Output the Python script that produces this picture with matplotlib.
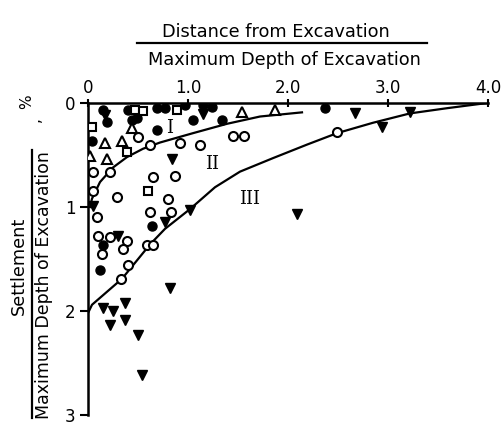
import numpy as np
import matplotlib
matplotlib.use("Agg")
from matplotlib import pyplot as plt
from matplotlib.lines import Line2D

# boundary curves between zones I / II / III
curve1_x = [0.02, 0.04, 0.12, 0.25, 0.39, 0.55, 0.72, 1.05, 1.39, 1.72, 2.14]
curve1_y = [1.00, 0.92, 0.76, 0.62, 0.52, 0.44, 0.38, 0.29, 0.20, 0.13, 0.09]
curve2_x = [0.0, 0.04, 0.34, 0.62, 0.77, 1.02, 1.27, 1.52, 1.85, 2.19, 2.49, 2.85, 3.22, 3.59, 3.99]
curve2_y = [2.02, 1.94, 1.69, 1.36, 1.21, 1.02, 0.81, 0.66, 0.53, 0.40, 0.29, 0.19, 0.10, 0.05, 0.0]

# observations
fcirc_x = [0.15, 0.19, 0.04, 0.49, 0.69, 0.77, 0.97, 1.05, 0.69, 1.24, 1.34, 2.37, 0.64, 0.15, 0.12, 1.15, 0.44, 0.40]
fcirc_y = [0.07, 0.18, 0.37, 0.14, 0.05, 0.05, 0.02, 0.16, 0.26, 0.04, 0.16, 0.05, 1.18, 1.37, 1.61, 0.02, 0.16, 0.07]
ocirc_x = [0.50, 0.62, 0.92, 1.12, 1.45, 1.56, 0.05, 0.22, 0.65, 0.87, 0.29, 0.80, 0.62, 0.83, 0.05,
           0.09, 0.10, 0.22, 0.39, 0.35, 0.14, 0.59, 0.65, 0.40, 0.33, 2.49]
ocirc_y = [0.33, 0.40, 0.38, 0.40, 0.32, 0.32, 0.66, 0.66, 0.71, 0.70, 0.90, 0.92, 1.05, 1.05, 0.85,
           1.10, 1.28, 1.29, 1.33, 1.40, 1.45, 1.37, 1.37, 1.56, 1.69, 0.28]
otri_x = [0.44, 0.17, 0.34, 0.02, 0.19, 1.54, 1.87]
otri_y = [0.24, 0.38, 0.37, 0.51, 0.54, 0.09, 0.07]
osq_x = [0.04, 0.39, 0.47, 0.89, 0.60, 0.55]
osq_y = [0.23, 0.47, 0.07, 0.07, 0.85, 0.08]
ftri_x = [0.84, 1.02, 0.77, 0.30, 0.82, 2.09, 2.67, 2.94, 3.22, 0.05, 0.15, 0.25, 0.37, 0.22, 0.37, 0.50, 0.54, 1.15, 0.17]
ftri_y = [0.54, 1.03, 1.14, 1.28, 1.78, 1.07, 0.10, 0.23, 0.09, 0.99, 1.97, 2.00, 1.92, 2.13, 2.09, 2.23, 2.62, 0.11, 0.12]

xticks = [0, 1, 2, 3, 4]
xtick_labels = ["0", "1.0", "2.0", "3.0", "4.0"]
yticks = [0, 1, 2, 3]
ytick_labels = ["0", "1", "2", "3"]

fig = plt.figure(figsize=(5.02, 4.25), dpi=100)
ax = fig.add_axes([88/502, 1-415/425, 400/502, 312/425])

ax.plot(curve1_x, curve1_y, color="black", lw=1.6, zorder=2)
ax.plot(curve2_x, curve2_y, color="black", lw=1.6, zorder=2)

ms = 6.5
ax.plot(fcirc_x, fcirc_y, "o", ms=ms, color="black", ls="none", zorder=3)
ax.plot(ocirc_x, ocirc_y, "o", ms=ms, mfc="white", mec="black", mew=1.5, ls="none", zorder=3)
ax.plot(otri_x, otri_y, "^", ms=ms, mfc="white", mec="black", mew=1.5, ls="none", zorder=3)
ax.plot(osq_x, osq_y, "s", ms=5.5, mfc="white", mec="black", mew=1.5, ls="none", zorder=3)
ax.plot(ftri_x, ftri_y, "v", ms=ms+0.5, color="black", ls="none", zorder=3)

ax.text(0.82, 0.24, "I", family="DejaVu Serif", fontsize=13, ha="center", va="center")
ax.text(1.24, 0.59, "II", family="DejaVu Serif", fontsize=13, ha="center", va="center")
ax.text(1.62, 0.92, "III", family="DejaVu Serif", fontsize=13, ha="center", va="center")

ax.set_xlim(0, 4)
ax.set_ylim(3, 0)
ax.xaxis.tick_top()
ax.set_xticks(xticks, xtick_labels)
ax.set_yticks(yticks, ytick_labels)
ax.tick_params(axis="x", direction="inout", length=6, width=1.5, pad=1, labelsize=12)
ax.tick_params(axis="y", direction="out", length=6, width=1.5, pad=3, labelsize=12)
for s in ["right", "bottom"]:
    ax.spines[s].set_visible(False)
for s in ["top", "left"]:
    ax.spines[s].set_linewidth(1.8)
ax.patch.set_visible(False)

# top label (fraction)
fig.text(276/502, 1-32/425, "Distance from Excavation", ha="center", va="center", fontsize=12.8)
fig.add_artist(Line2D([137/502, 427/502], [1-43/425, 1-43/425], color="black", lw=1.6))
fig.text(284/502, 1-60/425, "Maximum Depth of Excavation", ha="center", va="center", fontsize=12.8)

# left label (fraction)
fig.text(19/502, 1-266/425, "Settlement", rotation=90, ha="center", va="center", fontsize=12.8)
fig.add_artist(Line2D([32/502, 32/502], [1-150/425, 1-418/425], color="black", lw=1.6))
fig.text(44/502, 1-285/425, "Maximum Depth of Excavation", rotation=90, ha="center", va="center", fontsize=12.5)
fig.text(27/502, 1-102/425, "%", rotation=90, ha="center", va="center", fontsize=11)
fig.text(35/502, 1-120/425, ",", rotation=90, ha="center", va="center", fontsize=11)

fig.savefig("out.png", dpi=100)
